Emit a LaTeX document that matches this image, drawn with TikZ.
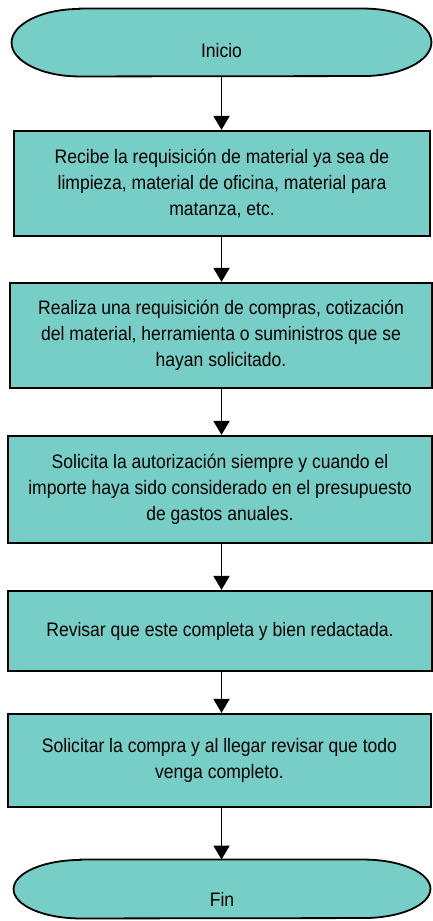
\documentclass[tikz,border=0pt]{standalone}
\usepackage{fontspec}
\setmainfont{Liberation Sans}[FakeStretch=0.9]
\usetikzlibrary{arrows.meta}
\definecolor{tealfill}{RGB}{118,206,199}
\begin{document}
\begin{tikzpicture}[x=1pt,y=-1pt,
  txt/.style={font=\fontsize{19.5}{26}\selectfont},
  stepbox/.style={draw=black, line width=2.2pt, fill=tealfill, inner sep=0pt, align=center, txt},
  termnode/.style={inner sep=0pt},
  termline/.style={draw=black, line width=1.8pt, fill=tealfill},
  flow/.style={line width=1.9pt, -{Triangle[width=16pt,length=14pt]}}
]
\useasboundingbox (0,0) rectangle (433,921);

% Inicio terminator
\node[termnode, minimum width=419.5pt, minimum height=67.5pt] (inicio) at (221.5,42.5) {};
\draw[termline] ([xshift=68pt]inicio.north west) -- ([xshift=-68pt]inicio.north east)
  arc[start angle=90, end angle=-90, x radius=68pt, y radius=33.75pt]
  -- ([xshift=68pt]inicio.south west)
  arc[start angle=270, end angle=90, x radius=68pt, y radius=33.75pt] -- cycle;
\node[txt] (inicio-t) at ([yshift=-8pt]inicio.center) {Inicio};

% Process boxes
\node[stepbox, minimum width=416pt, minimum height=105pt] (b1) at (222,183.5)
  {Recibe la requisición de material ya sea de\\limpieza, material de oficina, material para\\matanza, etc.};
\node[stepbox, minimum width=422pt, minimum height=105pt] (b2) at (221,335.5)
  {Realiza una requisición de compras, cotización\\del material, herramienta o suministros que se\\hayan solicitado.};
\node[stepbox, minimum width=424pt, minimum height=107pt] (b3) at (220,489.5)
  {Solicita la autorización siempre y cuando el\\importe haya sido considerado en el presupuesto\\de gastos anuales.};
\node[stepbox, minimum width=424pt, minimum height=80pt] (b4) at (220,631)
  {Revisar que este completa y bien redactada.};
\node[stepbox, minimum width=423pt, minimum height=93pt] (b5) at (219.5,760.5)
  {Solicitar la compra y al llegar revisar que todo\\venga completo.};

% Fin terminator
\node[termnode, minimum width=416.5pt, minimum height=58.5pt] (fin) at (222,889) {};
\draw[termline] ([xshift=67pt]fin.north west) -- ([xshift=-67pt]fin.north east)
  arc[start angle=90, end angle=-90, x radius=67pt, y radius=29.25pt]
  -- ([xshift=67pt]fin.south west)
  arc[start angle=270, end angle=90, x radius=67pt, y radius=29.25pt] -- cycle;
\node[txt] (fin-t) at ([yshift=-10pt]fin.center) {Fin};

% Connectors
\coordinate (ax) at (221.5,0);
\draw[flow] (inicio.south -| ax) -- (b1.north -| ax);
\draw[flow] (b1.south -| ax) -- (b2.north -| ax);
\draw[flow] (b2.south -| ax) -- (b3.north -| ax);
\draw[flow] (b3.south -| ax) -- (b4.north -| ax);
\draw[flow] (b4.south -| ax) -- (b5.north -| ax);
\draw[flow] (b5.south -| ax) -- (fin.north -| ax);
\end{tikzpicture}
\end{document}
